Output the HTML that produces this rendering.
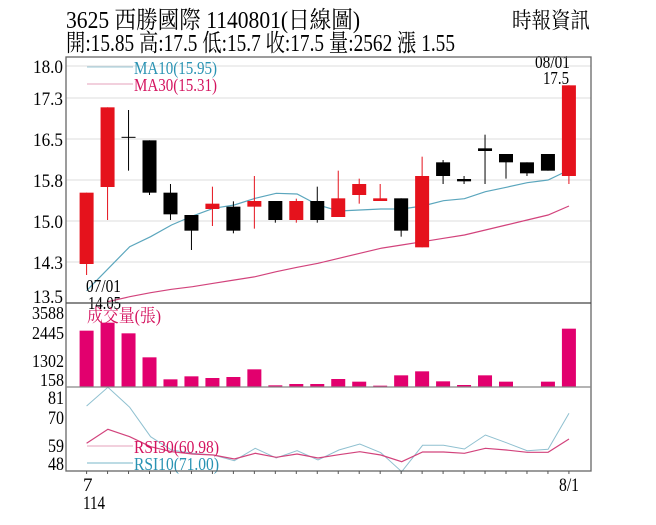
<!DOCTYPE html>
<html><head><meta charset="utf-8"><style>
html,body{margin:0;padding:0;background:#fff;width:656px;height:525px;overflow:hidden}
svg{display:block}
text{font-family:"Liberation Serif","Noto Serif CJK SC","Noto Sans CJK TC",serif}
</style></head><body>
<svg id="s" width="656" height="525" viewBox="0 0 656 525" xmlns="http://www.w3.org/2000/svg">
<rect x="0" y="0" width="656" height="525" fill="#fff"/>
<text x="66" y="28" font-size="24" textLength="294" lengthAdjust="spacingAndGlyphs">3625  西勝國際 1140801(日線圖)</text>
<text x="66" y="51" font-size="24" textLength="389" lengthAdjust="spacingAndGlyphs">開:15.85 高:17.5 低:15.7 收:17.5 量:2562 漲 1.55</text>
<text x="512" y="28" font-size="22" textLength="78" lengthAdjust="spacingAndGlyphs">時報資訊</text>
<g id="g"></g>
</svg>
<script>
var g=document.getElementById('g'),h='';
var L=66,R=591,T=57,P=303,V=387,B=471;
function X(zx){return zx/2.39;}
function Y(zy){return zy/3;}
[66,98,139,180,221,262].forEach(function(y){h+='<line x1="'+L+'" x2="'+R+'" y1="'+y+'" y2="'+y+'" stroke="#ddd" stroke-width="1"/>';});
[[18.0,66],[17.3,98],[16.5,139],[15.8,180],[15.0,221],[14.3,262],[13.5,296]].forEach(function(a){h+='<text x="63" y="'+(a[1]+7)+'" font-size="19" text-anchor="end" textLength="30" lengthAdjust="spacingAndGlyphs">'+a[0].toFixed(1)+'</text>';});
function poly(pts,col,w,yoff){var s='';pts.forEach(function(p){s+=X(p[0]).toFixed(1)+','+(Y(p[1])+yoff).toFixed(1)+' ';});return '<polyline points="'+s+'" fill="none" stroke="'+col+'" stroke-width="'+w+'"/>';}
var ma10=[[207,872],[310,740],[360,710],[410,675],[460,648],[510,625],[560,615],[610,595],[660,580],[710,582],[760,615],[810,633],[860,630],[910,627],[960,627],[1010,618],[1060,602],[1110,596],[1160,575],[1210,562],[1260,548],[1310,540],[1360,510]];
var ma30=[[258,905],[310,890],[360,878],[410,868],[460,860],[510,850],[560,840],[610,830],[660,815],[710,802],[760,790],[810,775],[860,760],[910,745],[960,735],[1010,725],[1060,715],[1110,705],[1160,690],[1210,675],[1260,660],[1310,645],[1360,618]];
h+=poly(ma10,'#5ba6bd',1.2,0);h+=poly(ma30,'#d2437c',1.2,0);
var C=[[1,578,792,578,825],[1,322,561,322,660],[2,412,412,330,512],[0,421,578,421,585],[0,578,643,552,660],[0,645,692,645,750],[1,611,627,560,678],[0,620,692,604,700],[1,603,620,528,686],[0,603,660,603,668],[1,603,660,596,668],[0,603,660,560,668],[1,595,651,512,651],[1,552,585,536,611],[1,595,603,552,603],[0,595,692,595,710],[1,528,742,470,742],[0,487,528,480,552],[0,537,544,528,552],[0,445,453,404,552],[0,462,487,462,536],[0,487,520,487,528],[0,462,512,462,512],[1,256,528,256,552]];
var xs=[];
C.forEach(function(c,i){var cx=86.6+i*20.97;xs.push(cx);var col=c[0]==1?'#e5121c':'#000';
 h+='<line x1="'+cx+'" x2="'+cx+'" y1="'+Y(c[3])+'" y2="'+Y(c[4])+'" stroke="'+(c[0]==2?'#000':col)+'" stroke-width="1"/>';
 if(c[0]==2){h+='<line x1="'+(cx-7)+'" x2="'+(cx+7)+'" y1="'+Y(c[1])+'" y2="'+Y(c[1])+'" stroke="#000"/>';}
 else h+='<rect x="'+(cx-7)+'" y="'+Y(c[1])+'" width="14" height="'+Math.max(1.5,Y(c[2])-Y(c[1]))+'" fill="'+col+'"/>';});
h+='<line x1="87" x2="133" y1="67" y2="67" stroke="#9cc8d6"/><text x="134" y="74" font-size="18" fill="#2a93b3" textLength="83" lengthAdjust="spacingAndGlyphs">MA10(15.95)</text>';
h+='<line x1="87" x2="133" y1="84" y2="84" stroke="#e4a0bb"/><text x="134" y="91" font-size="18" fill="#d4145f" textLength="83" lengthAdjust="spacingAndGlyphs">MA30(15.31)</text>';
h+='<text x="86" y="292" font-size="18" textLength="35" lengthAdjust="spacingAndGlyphs">07/01</text><text x="88" y="309" font-size="18" textLength="33" lengthAdjust="spacingAndGlyphs">14.05</text>';
h+='<text x="535" y="68" font-size="18" textLength="35" lengthAdjust="spacingAndGlyphs">08/01</text><text x="543" y="84" font-size="18" textLength="26" lengthAdjust="spacingAndGlyphs">17.5</text>';
var vt=[92,68,100,172,238,229,234,231,208,256,252,252,237,245,257,226,214,244,255,226,245,261,245,86];
vt.forEach(function(t,i){var y=t/3+300;h+='<rect x="'+(xs[i]-7)+'" y="'+y+'" width="14" height="'+(V-y)+'" fill="#e2006e"/>';});
[[3588,313],[2445,333],[1302,361],[158,380]].forEach(function(a){h+='<text x="64" y="'+(a[1]+6)+'" font-size="18" text-anchor="end" textLength="'+(String(a[0]).length*8)+'" lengthAdjust="spacingAndGlyphs">'+a[0]+'</text>';});
h+='<text x="87" y="322" font-size="18" fill="#d4145f" textLength="74" lengthAdjust="spacingAndGlyphs">成交量(張)</text>';
var r10=[[207,318],[258,262],[310,322],[360,410],[410,450],[460,460],[510,465],[560,482],[610,445],[660,474],[710,452],[760,480],[810,450],[860,432],[910,458],[960,515],[1010,436],[1060,436],[1110,447],[1160,405],[1210,428],[1260,452],[1310,448],[1360,340]];
var r30=[[207,430],[258,388],[310,410],[360,440],[410,455],[460,462],[510,465],[560,477],[610,460],[660,472],[710,462],[760,474],[810,464],[860,455],[910,465],[960,485],[1010,456],[1060,456],[1110,460],[1160,445],[1210,450],[1260,457],[1310,457],[1360,417]];
h+=poly(r10,'#8fc0d0',1,300);h+=poly(r30,'#d2437c',1.2,300);
[[81,397],[70,417],[59,445],[48,463]].forEach(function(a){h+='<text x="64" y="'+(a[1]+7)+'" font-size="19" text-anchor="end" textLength="16" lengthAdjust="spacingAndGlyphs">'+a[0]+'</text>';});
h+='<line x1="87" x2="133" y1="446" y2="446" stroke="#e4a0bb"/><text x="134" y="453" font-size="18" fill="#d4145f" textLength="85" lengthAdjust="spacingAndGlyphs">RSI30(60.98)</text>';
h+='<line x1="87" x2="133" y1="463" y2="463" stroke="#bcdbe4" stroke-width="2"/><text x="134" y="470" font-size="18" fill="#2a93b3" textLength="85" lengthAdjust="spacingAndGlyphs">RSI10(71.00)</text>';
h+='<rect x="'+L+'" y="'+T+'" width="'+(R-L)+'" height="'+(B-T)+'" fill="none" stroke="#666" stroke-width="1.3"/>';
h+='<line x1="'+L+'" x2="'+R+'" y1="'+P+'" y2="'+P+'" stroke="#444" stroke-width="1.3"/>';
h+='<line x1="'+L+'" x2="'+R+'" y1="'+V+'" y2="'+V+'" stroke="#888" stroke-width="1.2"/>';
xs.forEach(function(x){h+='<line x1="'+x+'" x2="'+x+'" y1="'+B+'" y2="'+(B+3)+'" stroke="#555"/>';});
h+='<text x="83" y="491" font-size="19">7</text><text x="83" y="509" font-size="19" textLength="22" lengthAdjust="spacingAndGlyphs">114</text>';
h+='<text x="559" y="491" font-size="19" textLength="20" lengthAdjust="spacingAndGlyphs">8/1</text>';
g.innerHTML=h;
</script>
</body></html>
